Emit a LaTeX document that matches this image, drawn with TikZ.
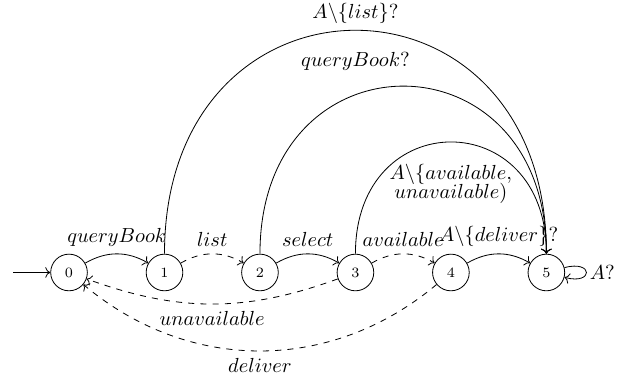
\documentclass[tikz,border=0pt]{standalone}
\usepackage{tikz}
\usetikzlibrary{arrows.meta}
\usetikzlibrary{positioning}
\tikzset{
  state/.style={draw,circle,minimum size=0.632cm,inner sep=0pt,font=\scriptsize},
  trans/.style={->},
  back/.style={->,dashed}
}

\begin{document}
\begin{tikzpicture}

  \useasboundingbox (-1.19,-1.784) rectangle (9.448,4.698);

  % ---------- States ----------
  \node[state] at (0,0) (S0) {0};
  \node[state, right=1cm of S0] (S1) {1};
  \node[state, right=1cm of S1] (S2) {2};
  \node[state, right=1cm of S2] (S3) {3};
  \node[state, right=1cm of S3] (S4) {4};
  \node[state, right=1cm of S4] (S5) {5};
  \coordinate[left=0.64cm of S0] (init);

  % ---------- Main line ----------
  \draw[trans] (init) -- (S0);
  \draw[trans] (S0) to[bend left] node[above] {$queryBook$} (S1);
  \draw[back] (S1) to[bend left] node[above] {$list$} (S2);
  \draw[trans] (S2) to[bend left] node[above] {$select$} (S3);
  \draw[back] (S3) to[bend left] node[above] {$available$} (S4);
  \draw[trans] (S4) to[bend left] node[above] {$A\backslash\{deliver\}?$} (S5);
  \draw[trans] (S5) to[loop right] node[right, inner sep=1.5pt] {$A?$} (S5);

  % ---------- Arcs into 5 ----------
  \draw[trans] (S1.north) to[out=90,in=90,looseness=2]
    node[above] {$A\backslash\{list\}?$}
    node[below=2.5mm] {$queryBook?$} (S5.north);
  \draw[trans] (S2.north) to[out=90,in=90,looseness=2] (S5.north);
  \draw[trans] (S3.north) to[out=90,in=90,looseness=2]
    node[below=2.5mm, align=center] {$A\backslash\{available,$\\[-2.5pt] $unavailable)$} (S5.north);

  % ---------- Back to 0 ----------
  \draw[back] (S3) to[bend left=20] node[below] {$unavailable$} (S0);
  \draw[back] (S4) to[bend left=40] node[below] {$deliver$} (S0);
\end{tikzpicture}
\end{document}
